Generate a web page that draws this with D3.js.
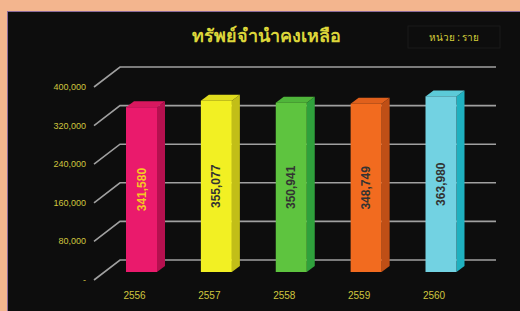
<!DOCTYPE html>
<html><head><meta charset="utf-8">
<script src="https://cdn.jsdelivr.net/npm/d3@7/dist/d3.min.js"></script>
<style>html,body{margin:0;padding:0;background:#f3b58e;}svg{display:block;}</style>
</head><body>
<script>
const years = ["2556","2557","2558","2559","2560"];
const values = [341580, 355077, 350941, 348749, 363980];
const tickValues = [0, 80000, 160000, 240000, 320000, 400000];
const tickLabels = ["-", "80,000", "160,000", "240,000", "320,000", "400,000"];
const frontColors = ["#ea1a6c", "#f2f023", "#5ec43f", "#f26b1f", "#72d2e2"];
const sideColors = ["#b5104f", "#c2be18", "#2fa13c", "#bf4f16", "#1fb1c0"];
const topColors = ["#d8185f", "#e0dc1e", "#4fb53a", "#e0601c", "#5ccad8"];
const labelColors = ["#f5c824", "#333", "#333", "#333", "#333"];
const title = "ทรัพย์จำนำคงเหลือ";
const unit = "หน่วย : ราย";

const W = 520, H = 311;
const svg = d3.select("body").append("svg").attr("width", W).attr("height", H);
svg.append("rect").attr("x", 0).attr("y", 0).attr("width", W).attr("height", H).attr("fill", "#f3b58e");
svg.append("rect").attr("x", 7).attr("y", 11).attr("width", W - 7).attr("height", H - 11).attr("fill", "#8a6a9a");
svg.append("rect").attr("x", 8).attr("y", 12).attr("width", W - 8).attr("height", H - 12).attr("fill", "#0d0d0d");

const y = d3.scaleLinear().domain([0, 400000]).range([260, 67]);
const x = d3.scalePoint().domain(years).range([141.5, 441]);
const wallX = 120, gridEnd = 496, frontDx = -26, frontDy = 20;
const barW = 31, depthX = 8, depthY = -6, barOffset = 12;

// gridlines
const g = svg.append("g");
tickValues.forEach((v, i) => {
  const yb = y(v);
  g.append("path")
    .attr("d", `M${wallX + frontDx},${yb + frontDy}L${wallX},${yb}L${gridEnd},${yb}`)
    .attr("fill", "none").attr("stroke", "#a0a0a0").attr("stroke-width", 1.6);
  g.append("text").attr("x", 86).attr("y", yb + frontDy + 3)
    .attr("text-anchor", "end").attr("fill", "#cfc63e")
    .attr("font-family", "Liberation Sans, Arial").attr("font-size", 9)
    .text(tickLabels[i]);
});

// bars
const bars = svg.append("g");
years.forEach((yr, i) => {
  const cx = x(yr);
  const x0 = cx - barW / 2, x1 = cx + barW / 2;
  const yTop = y(values[i]) + barOffset;
  const yBot = y(0) + barOffset;
  bars.append("path")
    .attr("d", `M${x1},${yTop}L${x1 + depthX},${yTop + depthY}L${x1 + depthX},${yBot + depthY}L${x1},${yBot}Z`)
    .attr("fill", sideColors[i]);
  bars.append("path")
    .attr("d", `M${x0},${yTop}L${x0 + depthX},${yTop + depthY}L${x1 + depthX},${yTop + depthY}L${x1},${yTop}Z`)
    .attr("fill", topColors[i]);
  bars.append("rect").attr("x", x0).attr("y", yTop).attr("width", barW).attr("height", yBot - yTop)
    .attr("fill", frontColors[i]);
  const my = (yTop + yBot) / 2;
  bars.append("text")
    .attr("transform", `translate(${cx + 4},${my}) rotate(-90)`)
    .attr("text-anchor", "middle").attr("fill", labelColors[i])
    .attr("font-family", "Liberation Sans Narrow, Liberation Sans, Arial").attr("font-weight", "bold").attr("font-size", 12)
    .text(d3.format(",")(values[i]));
  svg.append("text").attr("x", cx - 7).attr("y", 299)
    .attr("text-anchor", "middle").attr("fill", "#cfc63e")
    .attr("font-family", "Liberation Sans, Arial").attr("font-size", 10)
    .text(yr);
});

// title
svg.append("text").attr("x", 266).attr("y", 42).attr("text-anchor", "middle")
  .attr("fill", "#dcd63a").attr("font-family", "Noto Sans, DejaVu Sans").attr("font-weight", "bold")
  .attr("font-size", 18).text(title);
svg.append("rect").attr("x", 408).attr("y", 26).attr("width", 92).attr("height", 22)
  .attr("fill", "none").attr("stroke", "#1a1a1a").attr("stroke-width", 1);
svg.append("text").attr("x", 454).attr("y", 41).attr("text-anchor", "middle")
  .attr("fill", "#d6cf3a").attr("font-family", "Noto Sans, DejaVu Sans")
  .attr("font-size", 10).text(unit);
</script>
</body></html>
